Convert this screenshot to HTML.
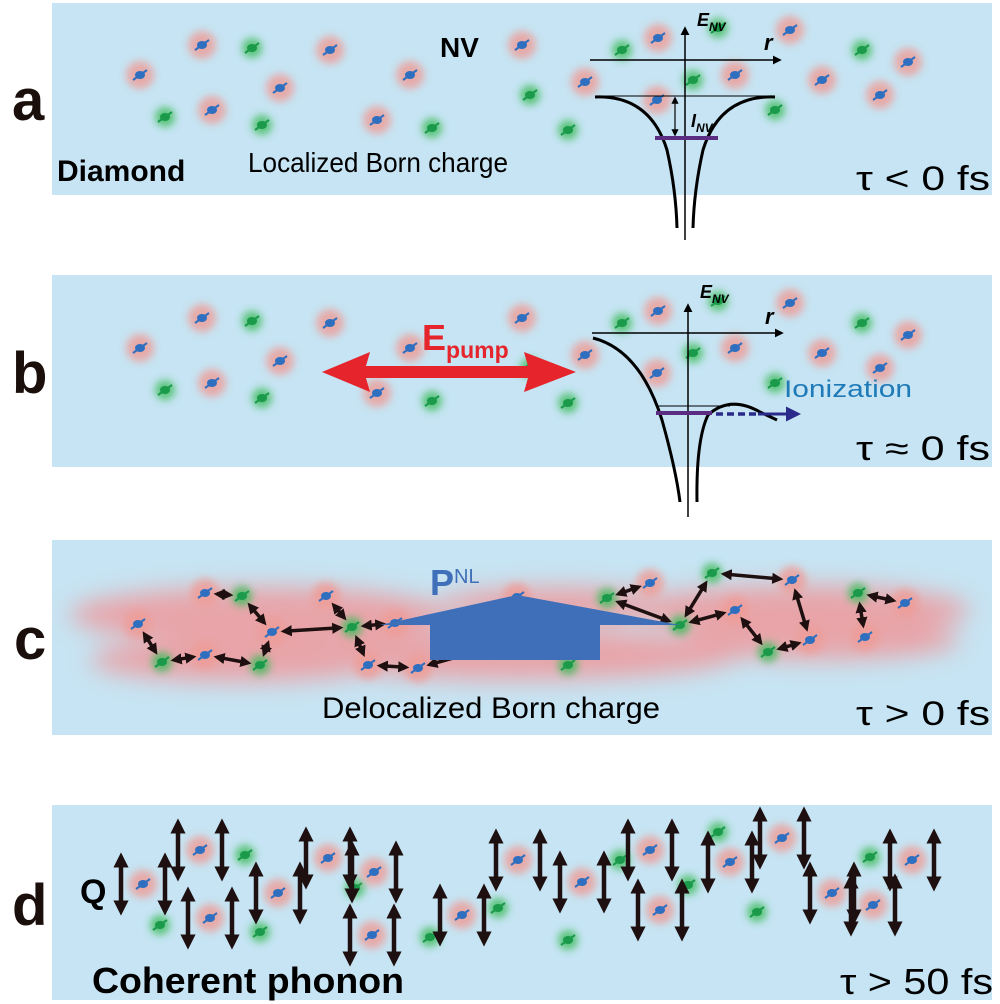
<!DOCTYPE html>
<html><head><meta charset="utf-8"><style>
html,body{margin:0;padding:0;background:#fff;width:1000px;height:1004px;overflow:hidden}
svg{display:block}
text{font-family:"Liberation Sans",Arial,sans-serif}
</style></head><body>
<svg id="s" width="1000" height="1004" viewBox="0 0 1000 1004" xmlns="http://www.w3.org/2000/svg">
<defs>
<filter id="blur" x="-50%" y="-50%" width="200%" height="200%"><feGaussianBlur stdDeviation="4"/></filter>
<filter id="bigblur" x="-20%" y="-50%" width="140%" height="200%"><feGaussianBlur stdDeviation="12"/></filter>
<marker id="ah" viewBox="0 0 10 10" refX="8" refY="5" markerWidth="6" markerHeight="6" orient="auto-start-reverse"><path d="M0,0L10,5L0,10z" fill="#000"/></marker>
<marker id="ab" viewBox="0 0 10 10" refX="7" refY="5" markerWidth="3.2" markerHeight="3.2" orient="auto-start-reverse"><path d="M0,0L10,5L0,10z" fill="#1e1010"/></marker>
<marker id="ad" viewBox="0 0 10 10" refX="7" refY="5" markerWidth="3.4" markerHeight="3.4" orient="auto-start-reverse"><path d="M0,0L10,5L0,10z" fill="#1e1010"/></marker>
<marker id="anv" viewBox="0 0 10 10" refX="8" refY="5" markerWidth="5" markerHeight="5" orient="auto"><path d="M0,0L10,5L0,10z" fill="#2a2a8a"/></marker>
</defs>
<rect x="52" y="3" width="940" height="192" fill="#c6e4f3"/>
<rect x="52" y="275" width="940" height="192" fill="#c6e4f3"/>
<rect x="52" y="540" width="940" height="195" fill="#c6e4f3"/>
<rect x="52" y="805" width="940" height="195" fill="#c6e4f3"/>
<g id="clouds" filter="url(#bigblur)" fill="#ee9a9c" opacity="0.85">
<ellipse cx="260" cy="615" rx="190" ry="28"/>
<ellipse cx="240" cy="660" rx="150" ry="22"/>
<ellipse cx="520" cy="655" rx="220" ry="25"/>
<ellipse cx="560" cy="605" rx="120" ry="18"/>
<ellipse cx="800" cy="610" rx="170" ry="25"/>
<ellipse cx="820" cy="640" rx="140" ry="20"/>
</g>
<g id="atoms"></g>
<g id="arrows"></g>
<g stroke="#000" fill="none">
<line x1="685" y1="240" x2="685" y2="28" stroke-width="1.5" marker-end="url(#ah)"/>
<line x1="590" y1="60" x2="780" y2="60" stroke-width="1.5" marker-end="url(#ah)"/>
<line x1="595" y1="96" x2="775" y2="96" stroke-width="1"/>
<path d="M595,97 Q650,95 667,150 Q676,190 677,228" stroke-width="3"/>
<path d="M775,97 Q720,95 703,150 Q694,190 693,228" stroke-width="3"/>
<line x1="675" y1="98" x2="675" y2="135" stroke-width="1.2" marker-start="url(#ah)" marker-end="url(#ah)"/>
</g>
<line x1="655" y1="138" x2="718" y2="138" stroke="#5a2d82" stroke-width="4"/>
<text x="697" y="26" font-size="18" font-weight="bold" font-style="italic">E<tspan font-size="12" dy="5">NV</tspan></text>
<text x="764" y="50" font-size="22" font-weight="bold" font-style="italic">r</text>
<text x="691" y="127" font-size="18" font-weight="bold" font-style="italic">I<tspan font-size="12" dy="5">NV</tspan></text>
<g stroke="#000" fill="none">
<line x1="688" y1="517" x2="688" y2="305" stroke-width="1.5" marker-end="url(#ah)"/>
<line x1="592" y1="333" x2="782" y2="333" stroke-width="1.5" marker-end="url(#ah)"/>
<line x1="656" y1="406" x2="730" y2="406" stroke-width="1"/>
<path d="M593,338 Q640,350 662,420 Q676,470 680,502" stroke-width="3"/>
<path d="M697,502 Q696,440 708,415 Q730,395 760,412 L777,420" stroke-width="3"/>
</g>
<line x1="656" y1="413" x2="712" y2="413" stroke="#5a2d82" stroke-width="4"/>
<line x1="716" y1="414" x2="758" y2="414" stroke="#2a2a8a" stroke-width="3.5" stroke-dasharray="7,4"/>
<line x1="758" y1="414" x2="798" y2="414" stroke="#2a2a8a" stroke-width="3" marker-end="url(#anv)"/>
<text x="700" y="298" font-size="18" font-weight="bold" font-style="italic">E<tspan font-size="12" dy="5">NV</tspan></text>
<text x="765" y="324" font-size="22" font-weight="bold" font-style="italic">r</text>
<text x="784" y="397" font-size="24" fill="#1f7ab8" textLength="128" lengthAdjust="spacingAndGlyphs">Ionization</text>
<g fill="#e5242b">
<polygon points="322,372 370,352 366,366 528,366 524,352 576,372 524,392 528,378 366,378 370,392"/>
</g>
<text x="422" y="350" font-size="36" font-weight="bold" fill="#e5242b">E<tspan font-size="23" dy="8">pump</tspan></text>
<polygon points="380,625 517,595 680,625 600,625 600,660 430,660 430,625" fill="#3f6fb8"/>
<text x="430" y="595" font-size="36" font-weight="bold" fill="#3f6fb8">P<tspan font-size="20" font-weight="normal" dy="-12">NL</tspan></text>
<g font-weight="bold" font-size="58" fill="#1a0f0a">
<text x="12" y="120">a</text><text x="12" y="393">b</text><text x="14" y="659">c</text><text x="12" y="925">d</text>
</g>
<text x="57" y="181" font-size="30" font-weight="bold">Diamond</text>
<text x="440" y="57" font-size="28" font-weight="bold">NV</text>
<text x="248" y="172" font-size="28" textLength="260" lengthAdjust="spacingAndGlyphs">Localized Born charge</text>
<text x="856" y="190" font-size="34" textLength="134" lengthAdjust="spacingAndGlyphs">τ &lt; 0 fs</text>
<text x="856" y="460" font-size="34" textLength="134" lengthAdjust="spacingAndGlyphs">τ ≈ 0 fs</text>
<text x="322" y="718" font-size="30" textLength="338" lengthAdjust="spacingAndGlyphs">Delocalized Born charge</text>
<text x="856" y="725" font-size="34" textLength="134" lengthAdjust="spacingAndGlyphs">τ &gt; 0 fs</text>
<text x="80" y="903" font-size="34" font-weight="bold">Q</text>
<text x="92" y="993" font-size="36" font-weight="bold" textLength="312" lengthAdjust="spacingAndGlyphs">Coherent phonon</text>
<text x="840" y="994" font-size="36" textLength="153" lengthAdjust="spacingAndGlyphs">τ &gt; 50 fs</text>
</svg>
<script>
var NS="http://www.w3.org/2000/svg";
var atoms=document.getElementById("atoms"),arrows=document.getElementById("arrows");
function el(t,a,p){var e=document.createElementNS(NS,t);for(var k in a)e.setAttribute(k,a[k]);(p||atoms).appendChild(e);return e;}
function atom(x,y,t){
  el("circle",{cx:x,cy:y,r:t=="b"?14:10,fill:t=="b"?"#ef9c96":"#3cbc5a",filter:"url(#blur)",opacity:0.8});
  var c=t=="b"?"#2f6fc0":"#1a9a4a";
  el("ellipse",{cx:x,cy:y,rx:5,ry:4,fill:c});
  el("line",{x1:x-7,y1:y+5,x2:x+7,y2:y-5,stroke:c,"stroke-width":2});
}
var A=[[202,45,"b"],[252,48,"g"],[330,50,"b"],[140,75,"b"],[165,117,"g"],[212,110,"b"],[262,125,"g"],[280,88,"b"],[377,120,"b"],[432,128,"g"],[410,75,"b"],[522,45,"b"],[530,95,"g"],[568,130,"g"],[585,82,"b"],[622,50,"g"],[658,38,"b"],[657,100,"b"],[693,80,"g"],[735,75,"b"],[775,110,"g"],[790,30,"b"],[718,28,"g"],[822,80,"b"],[862,50,"g"],[880,95,"b"],[908,62,"b"]];
A.forEach(function(a){atom(a[0],a[1],a[2]);atom(a[0],a[1]+273,a[2]);});
var C=[[205,593,"b"],[242,596,"g"],[138,624,"b"],[162,662,"g"],[205,655,"b"],[260,665,"g"],[272,632,"b"],[326,596,"b"],[352,627,"g"],[368,665,"b"],[395,623,"b"],[418,668,"b"],[517,597,"b"],[527,637,"g"],[568,665,"g"],[607,598,"g"],[650,583,"b"],[680,625,"g"],[712,573,"g"],[735,610,"b"],[768,652,"g"],[792,580,"b"],[810,640,"b"],[858,593,"g"],[865,637,"b"],[905,603,"b"]];
C.forEach(function(a){atom(a[0],a[1],a[2]);});
var L=[[205,593,242,596],[242,596,272,632],[138,624,162,662],[162,662,205,655],[205,655,260,665],[260,665,272,632],[272,632,352,627],[326,596,352,627],[352,627,368,665],[352,627,395,623],[517,597,527,637],[527,637,418,668],[418,668,368,665],[568,665,590,620],[607,598,650,583],[607,598,680,625],[680,625,712,573],[680,625,735,610],[712,573,792,580],[735,610,768,652],[768,652,810,640],[792,580,810,640],[858,593,865,637],[858,593,905,603]];
L.forEach(function(l){var dx=l[2]-l[0],dy=l[3]-l[1],d=Math.hypot(dx,dy),s=12/d;
el("line",{x1:l[0]+dx*s,y1:l[1]+dy*s,x2:l[2]-dx*s,y2:l[3]-dy*s,stroke:"#1e1010","stroke-width":3.5,"marker-start":"url(#ab)","marker-end":"url(#ab)"},arrows);});
var D=[[143,884],[200,850],[210,918],[278,893],[328,858],[374,872],[372,935],[462,915],[518,860],[582,882],[660,910],[650,850],[730,862],[782,838],[832,893],[873,905],[912,860]];
var G=[[160,925],[245,855],[260,932],[355,888],[430,937],[498,908],[568,940],[620,860],[688,885],[718,832],[757,912],[870,857]];
G.forEach(function(a){atom(a[0],a[1],"g");});
D.forEach(function(a){atom(a[0],a[1],"b");
[-22,22].forEach(function(o){el("line",{x1:a[0]+o,y1:a[1]-27,x2:a[0]+o,y2:a[1]+27,stroke:"#1e1010","stroke-width":4.5,"marker-start":"url(#ad)","marker-end":"url(#ad)"},arrows);});});
</script>
</body></html>
